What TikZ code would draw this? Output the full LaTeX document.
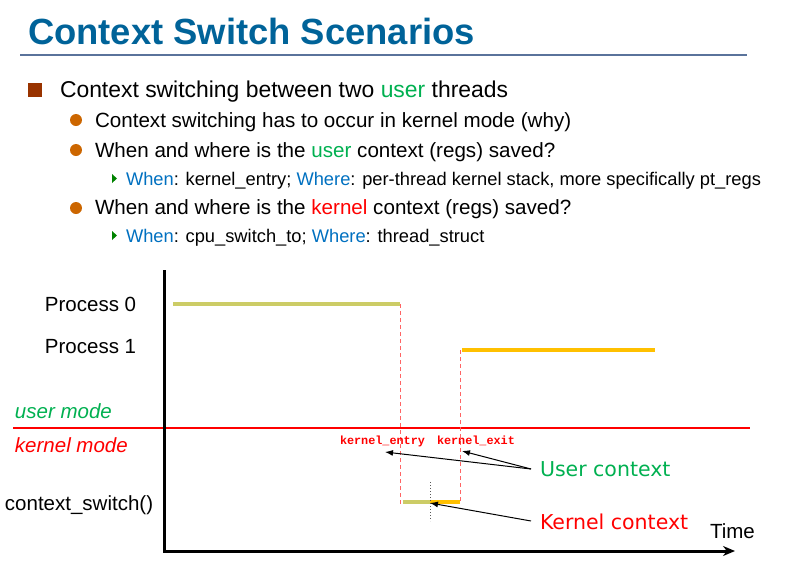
\documentclass[tikz,border=0pt]{standalone}
\usepackage{fontspec}
\setmainfont{Liberation Sans}
\setmonofont{Liberation Mono}
\newfontfamily\labelfont{DejaVu Sans}
\usetikzlibrary{arrows.meta}
\definecolor{titleblue}{RGB}{0,99,153}
\definecolor{rulecol}{RGB}{90,115,155}
\definecolor{brownbul}{RGB}{153,51,0}
\definecolor{orangebul}{RGB}{204,102,0}
\definecolor{greenbul}{RGB}{0,130,0}
\definecolor{usergreen}{RGB}{0,176,80}
\definecolor{whenblue}{RGB}{0,112,192}
\definecolor{olive}{RGB}{204,204,102}
\definecolor{gold}{RGB}{255,192,0}
\definecolor{dashred}{RGB}{255,100,100}
\tikzset{
  txt/.style={anchor=base west, inner sep=0pt, outer sep=0pt},
  lvlone/.style={txt, font=\fontsize{22.9}{26}\selectfont},
  lvltwo/.style={txt, font=\fontsize{20.6}{24}\selectfont},
  lvlthree/.style={txt, font=\fontsize{18.3}{22}\selectfont},
  difflabel/.style={txt, font=\fontsize{20.5}{24}\selectfont},
  ctxlabel/.style={txt, font=\labelfont\fontsize{20.5}{24}\selectfont},
  monolabel/.style={txt, font=\ttfamily\bfseries\fontsize{11.8}{14}\selectfont, text=red},
  pline/.style={line width=4pt},
  vdash/.style={dashed, dashred, line width=0.9pt, dash pattern=on 4pt off 3pt},
  ptr/.style={-{Latex[length=8pt,width=6pt]}, line width=1pt, black},
  axis/.style={line width=3pt, black},
}
\begin{document}
\begin{tikzpicture}[x=1pt,y=-1pt]
\useasboundingbox (0,0) rectangle (788,579);
% title
\node[txt, font=\bfseries\fontsize{36.4}{40}\selectfont, text=titleblue] (title) at (28,44) {Context Switch Scenarios};
\draw[rulecol, line width=2pt] (20,55) -- (747,55);
% bullets
\fill[brownbul] (28,83) rectangle (42,97);
\node[lvlone] (b1) at (60,97) {Context switching between two \textcolor{usergreen}{user} threads};
\fill[orangebul] (76,120) circle (6);
\node[lvltwo] (b2) at (95,127) {Context switching has to occur in kernel mode (why)};
\fill[orangebul] (76,150) circle (6);
\node[lvltwo] (b3) at (95,157) {When and where is the \textcolor{usergreen}{user} context (regs) saved?};
\fill[greenbul] (112,174) -- (117,178.5) -- (112,183) -- cycle;
\node[lvlthree] (b4) at (126,185) {\textcolor{whenblue}{When}: kernel\_entry; \textcolor{whenblue}{Where}: per-thread kernel stack, more specifically pt\_regs};
\fill[orangebul] (76,208) circle (6);
\node[lvltwo] (b5) at (95,214) {When and where is the \textcolor{red}{kernel} context (regs) saved?};
\fill[greenbul] (112,231) -- (117,235.5) -- (112,240) -- cycle;
\node[lvlthree] (b6) at (126,242) {\textcolor{whenblue}{When}: cpu\_switch\_to; \textcolor{whenblue}{Where}: thread\_struct};
% diagram labels
\node[difflabel] (p0) at (45,311) {Process 0};
\node[difflabel] (p1) at (45,353) {Process 1};
\node[difflabel, font=\itshape\fontsize{20.5}{24}\selectfont, text=usergreen] (um) at (15,418) {user mode};
\node[difflabel, font=\itshape\fontsize{20.5}{24}\selectfont, text=red] (km) at (15,452) {kernel mode};
\node[difflabel] (cs) at (5,510) {context\_switch()};
\node[difflabel] (time) at (710,538) {Time};
% mode separator
\draw[red, line width=1.5pt] (13,428) -- (750,428);
% dashed verticals
\draw[vdash] (400,304) -- (400,505);
\draw[vdash] (460,350) -- (460,502);
% process lines
\draw[pline, olive] (173,304) -- (400,304);
\draw[pline, gold] (462,350) -- (655,350);
\draw[pline, olive] (403,502) -- (430,502);
\draw[pline, gold] (430,502) -- (460,502);
\draw[dotted, gray!70!black, line width=1pt] (430,482) -- (430,521);
% axes
\draw[axis, -{Stealth[length=12pt,width=10pt]}] (164,270) -- (164,551) -- (735,551);
% kernel labels
\node[monolabel] (ke) at (340,444) {kernel\_entry};
\node[monolabel] (kx) at (437,444) {kernel\_exit};
\node[ctxlabel, text=usergreen] (uc) at (540,476) {User context};
\node[ctxlabel, text=red] (kc) at (540,529) {Kernel context};
\coordinate (ucsrc) at (531,469);
\coordinate (kcsrc) at (531,521);
\coordinate (ketip) at (385,452);
\coordinate (kxtip) at (462,451);
\coordinate (kctip) at (430,503);
\draw[ptr] (ucsrc) -- (ketip);
\draw[ptr] (ucsrc) -- (kxtip);
\draw[ptr] (kcsrc) -- (kctip);
\end{tikzpicture}
\end{document}
